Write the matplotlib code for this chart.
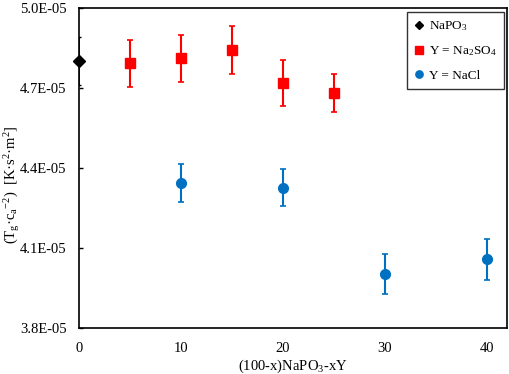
import matplotlib
matplotlib.use("Agg")
import matplotlib.pyplot as plt
from matplotlib.ticker import FuncFormatter

plt.rcParams['font.family'] = ['Liberation Serif', 'DejaVu Serif']
plt.rcParams['mathtext.fontset'] = 'custom'
plt.rcParams['mathtext.rm'] = 'Liberation Serif'
plt.rcParams['mathtext.it'] = 'Liberation Serif'
plt.rcParams['font.size'] = 10.5

# data
x_napo3 = [0]
y_napo3 = [4.80e-05]
e_napo3 = [0.09e-05]

x_so4 = [5, 10, 15, 20, 25]
y_so4 = [4.792e-05, 4.812e-05, 4.841e-05, 4.719e-05, 4.681e-05]
e_so4 = [0.087e-05, 0.088e-05, 0.090e-05, 0.085e-05, 0.070e-05]

x_cl = [10, 20, 30, 40]
y_cl = [4.344e-05, 4.326e-05, 4.002e-05, 4.057e-05]
e_cl = [0.070e-05, 0.070e-05, 0.075e-05, 0.076e-05]

fig = plt.figure(figsize=(5.1, 3.74), dpi=100)
ax = fig.add_axes([79 / 510, 1 - 328 / 374, 428 / 510, 320 / 374])

c0 = ax.errorbar(x_napo3, y_napo3, yerr=e_napo3, fmt='D', color='black', ms=6,
                 capsize=1.5, elinewidth=1.2, zorder=4)
c0[0].set_clip_on(False)
c1 = ax.errorbar(x_so4, y_so4, yerr=e_so4, fmt='s', color='#ff0000', ms=7,
                 capsize=2, elinewidth=1.5, capthick=1.2)
c2 = ax.errorbar(x_cl, y_cl, yerr=e_cl, fmt='o', color='#0070c0', ms=7,
                 capsize=2, elinewidth=1.5, capthick=1.2)

ax.set_xlim(0, 42)
ax.set_ylim(3.8e-05, 5.0e-05)
ax.set_xticks([0, 10, 20, 30, 40])
ax.set_yticks([3.8e-05, 4.1e-05, 4.4e-05, 4.7e-05, 5.0e-05])
ax.yaxis.set_major_formatter(FuncFormatter(lambda v, p: f'{v:.1E}'))
ax.tick_params(axis='y', direction='in', length=3, width=1, pad=9)
ax.tick_params(axis='x', length=0, pad=10)
for s in ax.spines.values():
    s.set_linewidth(1.2)

ax.set_xlabel('(100-x)NaPO$_3$-xY', labelpad=2)
fig.text(12 / 510, 1 - 185 / 374, '(T$_g$·c$_a$$^{-2}$)  [K·s$^2$·m$^2$]',
         rotation=90, ha='center', va='center', fontsize=10.5)

leg = ax.legend([c0[0], c1[0], c2[0]],
                ['NaPO$_3$', 'Y = Na$_2$SO$_4$', 'Y = NaCl'],
                loc='upper right', bbox_to_anchor=(0.993, 0.9875), frameon=True,
                fancybox=False, edgecolor='black', handletextpad=0.4,
                handlelength=0.7, labelspacing=0.85, borderpad=0.55,
                borderaxespad=0, markerscale=0.75, fontsize=9.5)
leg.get_frame().set_linewidth(1.0)

fig.savefig('out.png', dpi=100)
